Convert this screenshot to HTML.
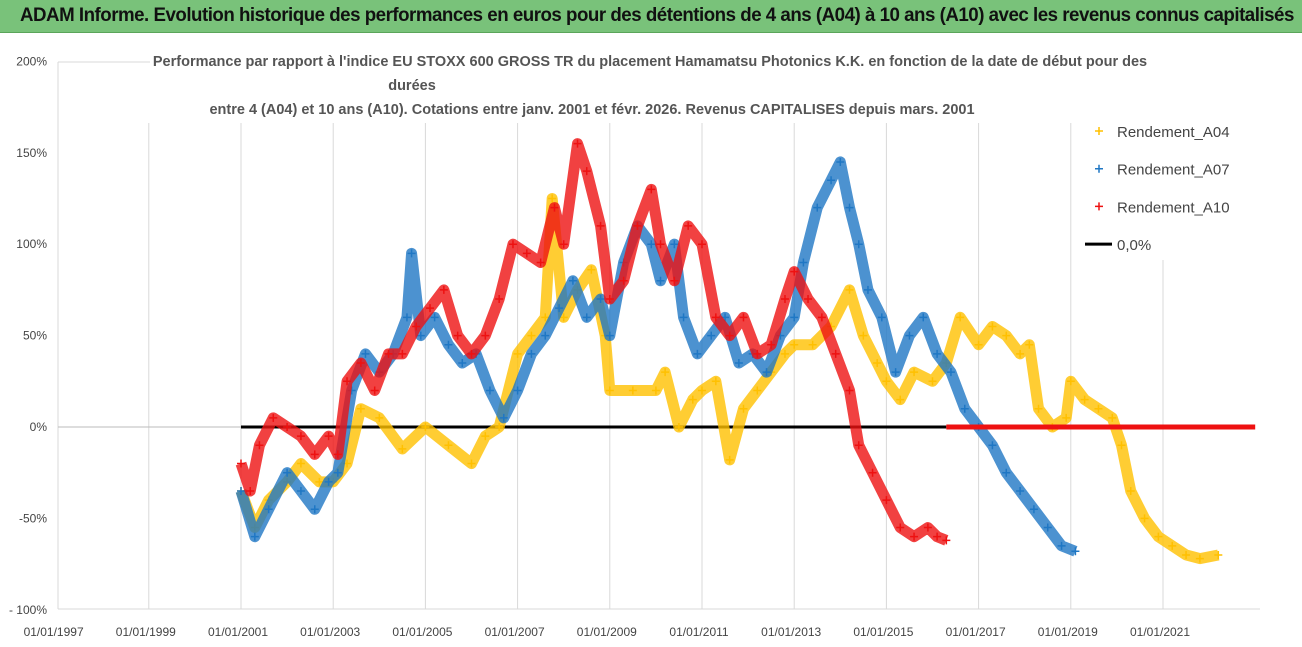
<!DOCTYPE html>
<html><head><meta charset="utf-8">
<style>
body{margin:0;width:1302px;height:647px;overflow:hidden;background:#fff;font-family:"Liberation Sans",sans-serif;}
#hdr{position:absolute;left:0;top:0;width:1302px;height:32px;background:#79c27a;border-bottom:1px solid #5aa55a;}
#hdr span{position:absolute;left:20px;top:5px;font-size:19px;font-weight:bold;color:#111;letter-spacing:-0.5px;transform:scaleX(0.985);transform-origin:left;white-space:nowrap;}
svg{position:absolute;left:0;top:0;}
</style></head><body>
<div id="hdr"><span>ADAM Informe. Evolution historique des performances en euros pour des détentions de 4 ans (A04) à 10 ans (A10) avec les revenus connus capitalisés</span></div>
<svg id="chart" width="1302" height="647"></svg>
<script>
const yTicks=[200,150,100,50,0,-50,-100];
const yTickLabels=["200%","150%","100%","50%","0%","-50%","- 100%"];
const xTickYears=[1997,1999,2001,2003,2005,2007,2009,2011,2013,2015,2017,2019,2021];
const xTickLabels=["01/01/1997","01/01/1999","01/01/2001","01/01/2003","01/01/2005","01/01/2007","01/01/2009","01/01/2011","01/01/2013","01/01/2015","01/01/2017","01/01/2019","01/01/2021"];
const a04Years=[2001,2001.3,2001.6,2002,2002.3,2002.7,2003,2003.3,2003.6,2004,2004.5,2005,2005.5,2006,2006.3,2006.6,2007,2007.3,2007.6,2007.75,2008,2008.3,2008.6,2008.9,2009,2009.5,2010,2010.2,2010.5,2010.8,2011,2011.3,2011.6,2011.9,2012.2,2012.5,2012.8,2013,2013.4,2013.8,2014.2,2014.5,2014.8,2015,2015.3,2015.6,2016,2016.3,2016.6,2017,2017.3,2017.6,2017.9,2018.1,2018.3,2018.6,2018.9,2019,2019.3,2019.6,2019.9,2020.1,2020.3,2020.6,2020.9,2021.2,2021.5,2021.8,2022.2];
const a04Values=[-35,-55,-40,-30,-20,-30,-30,-20,10,5,-12,0,-10,-20,-5,0,40,50,60,125,60,75,86,50,20,20,20,30,0,15,20,25,-18,10,20,30,40,45,45,55,75,50,35,25,15,30,25,35,60,45,55,50,40,45,10,0,5,25,15,10,5,-10,-35,-50,-60,-65,-70,-72,-70];
const a07Years=[2001,2001.3,2001.6,2002,2002.3,2002.6,2002.9,2003.1,2003.4,2003.7,2004,2004.3,2004.6,2004.7,2004.9,2005.2,2005.5,2005.8,2006.1,2006.4,2006.7,2007,2007.3,2007.6,2007.9,2008.2,2008.5,2008.8,2009,2009.3,2009.6,2009.9,2010.1,2010.4,2010.6,2010.9,2011.2,2011.5,2011.8,2012.1,2012.4,2012.7,2013,2013.2,2013.5,2013.8,2014,2014.2,2014.4,2014.6,2014.9,2015.2,2015.5,2015.8,2016.1,2016.4,2016.7,2017,2017.3,2017.6,2017.9,2018.2,2018.5,2018.8,2019.1];
const a07Values=[-35,-60,-45,-25,-35,-45,-30,-25,20,40,30,40,60,95,50,60,45,35,40,20,5,20,40,50,65,80,60,70,50,90,110,100,80,100,60,40,50,60,35,40,30,50,60,90,120,135,145,120,100,75,60,30,50,60,40,30,10,0,-10,-25,-35,-45,-55,-65,-68];
const a10Years=[2001,2001.2,2001.4,2001.7,2002,2002.3,2002.6,2002.9,2003.1,2003.3,2003.6,2003.9,2004.2,2004.5,2004.8,2005.1,2005.4,2005.7,2006,2006.3,2006.6,2006.9,2007.2,2007.5,2007.8,2008,2008.3,2008.5,2008.8,2009,2009.3,2009.6,2009.9,2010.1,2010.4,2010.7,2011,2011.3,2011.6,2011.9,2012.2,2012.5,2012.8,2013,2013.3,2013.6,2013.9,2014.2,2014.4,2014.7,2015,2015.3,2015.6,2015.9,2016.1,2016.3];
const a10Values=[-20,-35,-10,5,0,-5,-15,-5,-15,25,35,20,40,40,55,65,75,50,40,50,70,100,95,90,120,100,155,140,110,70,80,110,130,100,80,110,100,60,50,60,40,45,70,85,70,60,40,20,-10,-25,-40,-55,-60,-55,-60,-62];
const a10ZeroRange=[2016.3,2023.0];
const zeroLineRange=[2001,2016.3];
const legendNames=["Rendement_A04","Rendement_A07","Rendement_A10","0,0%"];
const colors=["#ffc000","#1f77c4","#ee1111","#000"];

const NS="http://www.w3.org/2000/svg";
const svg=document.getElementById('chart');
const X=yr=>241+(yr-2001)*46.1;
const Y=v=>427-v*1.828;
function el(t,a,p){const e=document.createElementNS(NS,t);for(const k in a)e.setAttribute(k,a[k]);(p||svg).appendChild(e);return e;}

const grid=el('g',{});


xTickYears.forEach((yr,i)=>{
  if(i>0){const l=el('line',{x1:X(yr),x2:X(yr),y1:123,y2:609,stroke:'#d9d9d9','stroke-width':1},grid);
  
  }
  const t=el('text',{x:X(yr)-3,y:636,'text-anchor':'middle','font-size':12,fill:'#444'});
  t.textContent=xTickLabels[i];
  
  
});
el('line',{x1:58,x2:58,y1:62,y2:609,stroke:'#d9d9d9'},grid);
el('line',{x1:58,x2:150,y1:62,y2:62,stroke:'#d9d9d9'},grid);
el('line',{x1:58,x2:1260,y1:609,y2:609,stroke:'#d9d9d9'},grid);
yTicks.forEach((v,i)=>{
  const t=el('text',{x:47,y:Y(v)+4,'text-anchor':'end','font-size':12,fill:'#444'});
  t.textContent=yTickLabels[i];
  
  
});
el('line',{x1:58,x2:241,y1:427,y2:427,stroke:'#bbb'},grid);

const title=el('text',{'font-size':14.5,'font-weight':'bold',fill:'#555','text-anchor':'middle'});


[["Performance par rapport à l'indice EU STOXX 600 GROSS TR  du placement Hamamatsu Photonics K.K. en fonction de la date de début pour des",650,66],["durées",412,90],["entre 4 (A04) et 10 ans (A10). Cotations entre janv. 2001 et févr. 2026. Revenus CAPITALISES depuis mars. 2001",592,114]].forEach(([s,x,y])=>{
  const t=el('tspan',{x:x,y:y},title);t.textContent=s;});

function series(years,vals,col,name){
  const g=el('g',{});
  
  
  const pts=years.map((yr,i)=>X(yr)+','+Y(vals[i])).join(' ');
  el('polyline',{points:pts,fill:'none',stroke:col,'stroke-width':11,'stroke-linejoin':'round','stroke-opacity':0.8},g);
  years.forEach((yr,i)=>{
    const m=el('path',{d:`M${X(yr)-4},${Y(vals[i])}h8M${X(yr)},${Y(vals[i])-4}v8`,stroke:col,'stroke-width':1.5},g);
    
    
  });
}
const zl=el('line',{x1:X(zeroLineRange[0]),x2:X(zeroLineRange[1]),y1:Y(0),y2:Y(0),stroke:'#000','stroke-width':3});


series(a04Years,a04Values,colors[0],'series-a04');
series(a07Years,a07Values,colors[1],'series-a07');
series(a10Years,a10Values,colors[2],'series-a10');
const rz=el('line',{x1:X(a10ZeroRange[0]),x2:X(a10ZeroRange[1]),y1:Y(0),y2:Y(0),stroke:colors[2],'stroke-width':5});



const lg=el('g',{});


el('rect',{x:1085,y:115,width:170,height:145,fill:'#fff'},lg);
legendNames.forEach((n,i)=>{
  const y=131+i*37.7;
  const e=el('g',{},lg);
  
  
  if(i<3) el('path',{d:`M${1095},${y}h8M${1099},${y-4}v8`,stroke:colors[i],'stroke-width':1.5},e);
  else el('line',{x1:1085,x2:1112,y1:y,y2:y,stroke:'#000','stroke-width':3},e);
  const t=el('text',{x:1117,y:y+6,'font-size':15,fill:'#444'},e);t.textContent=n;
});
</script>
</body></html>
